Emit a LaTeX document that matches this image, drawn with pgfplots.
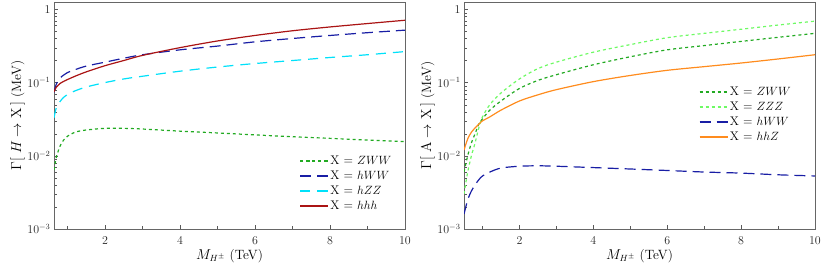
\documentclass[border=0pt]{standalone}
\usepackage{pgfplots}
\pgfplotsset{compat=1.18}
\definecolor{cZWW}{RGB}{34,170,34}
\definecolor{cZZZ}{RGB}{110,250,100}
\definecolor{cBlue}{RGB}{25,30,165}
\definecolor{cCyan}{RGB}{0,225,250}
\definecolor{cRed}{RGB}{170,20,20}
\definecolor{cOrange}{RGB}{255,140,30}
\pgfplotsset{
  legend image code/.code={\draw[#1, line width=1.7bp] plot coordinates {(0bp,0bp) (28bp,0bp)};},
}
\newcommand{\tfont}{\fontsize{12}{14}\selectfont}
\newcommand{\lfont}{\fontsize{12.5}{15}\selectfont}
\newcommand{\afont}{\fontsize{13.5}{16}\selectfont}
\begin{document}
\begin{tikzpicture}
\useasboundingbox (0,0) rectangle (830bp,279bp);
\begin{axis}[at={(54bp,50bp)}, anchor=south west, xmin=0.64,
    scale only axis, width=351bp, height=227bp,
    ymode=log, ymin=0.001, ymax=1.26, xmax=10,
    axis line style={gray!80!black},
    tick style={gray!70!black},
    tick pos=left, tick align=inside,
    xtick={2,4,6,8,10}, minor xtick={1,3,5,7,9},
    ytick={0.001,0.01,0.1,1},
    yticklabels={$10^{-3}$,$10^{-2}$,$10^{-1}$,$1$},
    xticklabel style={yshift=-4bp, text=black!85, font=\tfont},
    yticklabel style={text=black!85, font=\tfont},
    xlabel={$M_{H^{\pm}}$ (TeV)},
    label style={font=\afont},
    xlabel style={yshift=2bp},
    ylabel style={yshift=-4bp},
    legend cell align=left,
    legend style={draw=none, fill=none, inner sep=0pt, font=\lfont, row sep=0pt,
      nodes={text height=9bp, text depth=3bp, inner sep=1.5bp},
      at={(0.966,0.333)}, anchor=north east},
  ylabel={$\Gamma[\;H\to\mathrm{X}\,]$\ (MeV)}]
\addplot[cZWW, line width=1.2bp, dash pattern=on 3bp off 3bp, smooth] coordinates {
(0.64,0.0064)(0.7,0.0095)(0.8,0.0135)(0.9,0.0165)(1,0.0185)(1.2,0.021)(1.5,0.0225)(2,0.0237)(2.5,0.0237)(3,0.0232)(4,0.0217)(5,0.0205)(6,0.0193)(7,0.0182)(8,0.0173)(9,0.0164)(10,0.0156)};
\addlegendentry{X = $ZWW$}
\addplot[cBlue, line width=1.2bp, dash pattern=on 11bp off 6bp, smooth] coordinates {
(0.64,0.073)(0.7,0.095)(0.8,0.115)(0.9,0.127)(1,0.137)(1.2,0.15)(1.5,0.168)(2,0.19)(2.5,0.215)(3,0.24)(4,0.28)(5,0.315)(6,0.36)(7,0.4)(8,0.44)(9,0.48)(10,0.52)};
\addlegendentry{X = $hWW$}
\addplot[cCyan, line width=1.2bp, dash pattern=on 10bp off 7bp, smooth] coordinates {
(0.64,0.033)(0.7,0.045)(0.8,0.055)(0.9,0.063)(1,0.069)(1.2,0.077)(1.5,0.087)(2,0.1)(2.5,0.112)(3,0.122)(4,0.143)(5,0.163)(6,0.182)(7,0.2)(8,0.22)(9,0.24)(10,0.265)};
\addlegendentry{X = $hZZ$}
\addplot[cRed, line width=1.2bp, smooth] coordinates {
(0.64,0.075)(0.7,0.086)(0.8,0.097)(0.9,0.104)(1,0.11)(1.2,0.122)(1.5,0.14)(2,0.17)(2.5,0.2)(3,0.235)(4,0.3)(5,0.37)(6,0.44)(7,0.51)(8,0.575)(9,0.64)(10,0.71)};
\addlegendentry{X = $hhh$}
\end{axis}
\begin{axis}[at={(464bp,50bp)}, anchor=south west, xmin=0.5,
    scale only axis, width=351bp, height=227bp,
    ymode=log, ymin=0.001, ymax=1.26, xmax=10,
    axis line style={gray!80!black},
    tick style={gray!70!black},
    tick pos=left, tick align=inside,
    xtick={2,4,6,8,10}, minor xtick={1,3,5,7,9},
    ytick={0.001,0.01,0.1,1},
    yticklabels={$10^{-3}$,$10^{-2}$,$10^{-1}$,$1$},
    xticklabel style={yshift=-4bp, text=black!85, font=\tfont},
    yticklabel style={text=black!85, font=\tfont},
    xlabel={$M_{H^{\pm}}$ (TeV)},
    label style={font=\afont},
    xlabel style={yshift=2bp},
    ylabel style={yshift=-4bp},
    legend cell align=left,
    legend style={draw=none, fill=none, inner sep=0pt, font=\lfont, row sep=0pt,
      nodes={text height=9bp, text depth=3bp, inner sep=1.5bp},
      at={(0.668,0.637)}, anchor=north west},
  ylabel={$\Gamma[\;\mathrm{A}\to\mathrm{X}\,]$\ (MeV)}]
\addplot[cZWW, line width=1.2bp, dash pattern=on 3bp off 3bp, smooth] coordinates {
(0.5,0.006)(0.6,0.01)(0.7,0.015)(0.8,0.02)(0.9,0.027)(1,0.032)(1.2,0.042)(1.5,0.056)(2,0.083)(2.5,0.107)(3,0.128)(4,0.175)(5,0.225)(6,0.28)(7,0.32)(8,0.365)(9,0.415)(10,0.47)};
\addlegendentry{X = $ZWW$}
\addplot[cZZZ, line width=1.2bp, dash pattern=on 3bp off 3bp, smooth] coordinates {
(0.5,0.003)(0.6,0.006)(0.7,0.01)(0.8,0.015)(0.9,0.024)(1,0.034)(1.2,0.05)(1.5,0.072)(2,0.112)(2.5,0.155)(3,0.19)(4,0.26)(5,0.33)(6,0.41)(7,0.47)(8,0.535)(9,0.61)(10,0.69)};
\addlegendentry{X = $ZZZ$}
\addplot[cBlue, line width=1.2bp, dash pattern=on 11bp off 6bp, smooth] coordinates {
(0.5,0.0016)(0.6,0.0025)(0.7,0.0033)(0.8,0.004)(0.9,0.0047)(1,0.0053)(1.2,0.006)(1.5,0.0068)(2,0.0072)(2.5,0.0073)(3,0.0072)(4,0.0069)(5,0.0066)(6,0.0063)(7,0.006)(8,0.0058)(9,0.0055)(10,0.0053)};
\addlegendentry{X = $hWW$}
\addplot[cOrange, line width=1.2bp, smooth] coordinates {
(0.5,0.012)(0.6,0.017)(0.7,0.021)(0.8,0.024)(0.9,0.027)(1,0.03)(1.2,0.034)(1.5,0.042)(2,0.056)(2.5,0.068)(3,0.08)(4,0.103)(5,0.125)(6,0.147)(7,0.165)(8,0.185)(9,0.21)(10,0.24)};
\addlegendentry{X = $hhZ$}
\end{axis}
\end{tikzpicture}
\end{document}
